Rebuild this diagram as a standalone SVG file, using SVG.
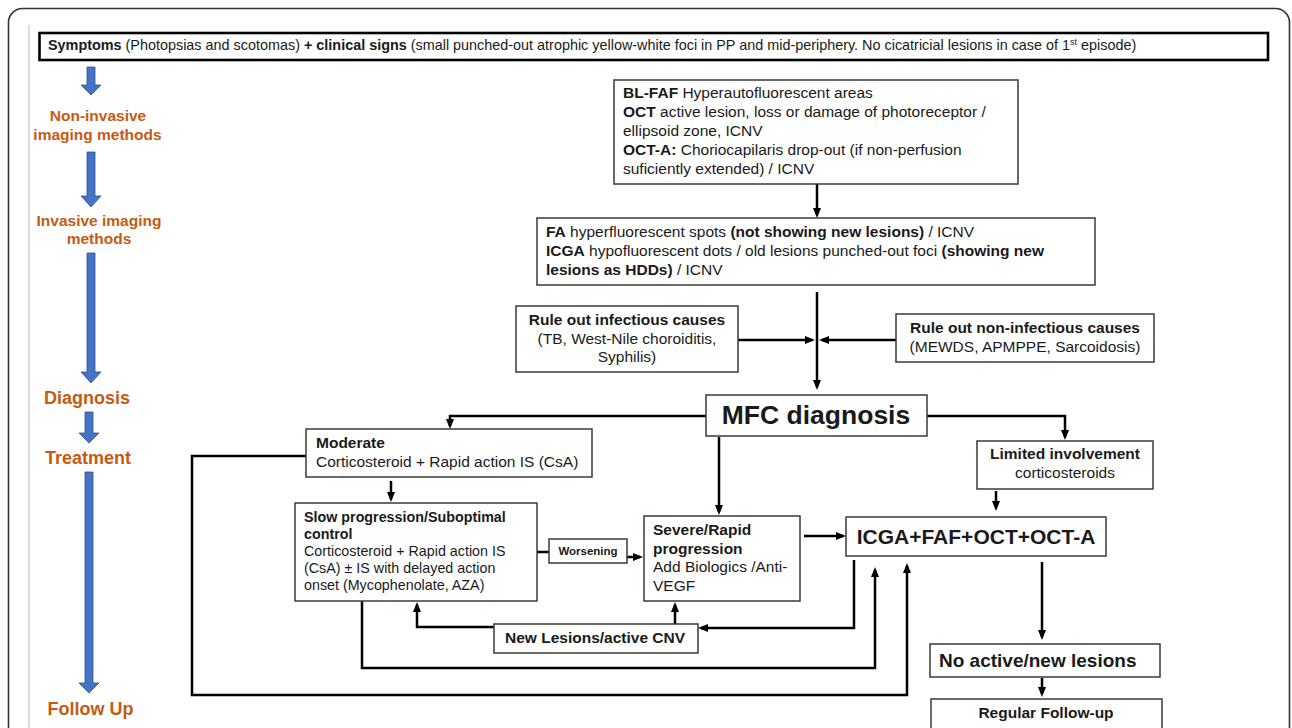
<svg xmlns="http://www.w3.org/2000/svg" width="1292" height="728" viewBox="0 0 1292 728">
<defs>
<style>
.t{font-family:"Liberation Sans",Arial,sans-serif;font-size:15.5px;fill:#1a1a1a}
.b{font-weight:bold}
.box{fill:#fff;stroke:#3a3a3a;stroke-width:1.5}
.lbl{font-family:"Liberation Sans",Arial,sans-serif;font-weight:bold;fill:#C55A11;text-anchor:middle}
.c{fill:none;stroke:#000;stroke-width:2.5}
.ba{fill:#4472C4;stroke:#2F528F;stroke-width:0.8}
.m{text-anchor:middle}
</style>
<marker id="ah" markerUnits="userSpaceOnUse" markerWidth="10" markerHeight="10" viewBox="0 0 10 10" refX="7" refY="5" orient="auto">
<path d="M0,1 L10,5 L0,9 z" fill="#000"/>
</marker>
</defs>
<rect width="1292" height="728" fill="#fff"/>
<rect x="8.5" y="8.5" width="1281" height="745" rx="14" fill="none" stroke="#333" stroke-width="1.6"/>
<line x1="29" y1="25" x2="29" y2="728" stroke="#dcdcdc" stroke-width="2"/>

<g id="header">
<rect x="39.5" y="33" width="1228.5" height="27" fill="#fff" stroke="#000" stroke-width="2.6"/>
<text class="t" x="48" y="50" style="font-size:14.4px"><tspan class="b">Symptoms</tspan> (Photopsias and scotomas) <tspan class="b">+ clinical signs</tspan> (small punched-out atrophic yellow-white foci in PP and mid-periphery. No cicatricial lesions in case of 1<tspan dy="-5" style="font-size:9px">st</tspan><tspan dy="5"> episode)</tspan></text>
</g>

<g id="stages">
<polygon class="ba" points="87,67 95,67 95,85 101,85 91,95 81,85 87,85"/>
<polygon class="ba" points="87,152 95,152 95,196 101,196 91,207 81,196 87,196"/>
<polygon class="ba" points="87,253 95,253 95,372 101,372 91,383 81,372 87,372"/>
<polygon class="ba" points="85,412 93,412 93,433 99,433 89,443 79,433 85,433"/>
<polygon class="ba" points="85,472 93,472 93,683 99,683 89,693 79,683 85,683"/>
<text class="lbl" x="98" y="121" style="font-size:15.5px">Non-invasive</text>
<text class="lbl" x="97.5" y="140" style="font-size:15.5px">imaging methods</text>
<text class="lbl" x="99" y="226" style="font-size:15.5px">Invasive imaging</text>
<text class="lbl" x="99" y="244" style="font-size:15.5px">methods</text>
<text class="lbl" x="87" y="404" style="font-size:18px">Diagnosis</text>
<text class="lbl" x="88" y="464" style="font-size:18px">Treatment</text>
<text class="lbl" x="90.5" y="715" style="font-size:18px">Follow Up</text>
</g>

<g id="connectors">
<path class="c" marker-end="url(#ah)" d="M817,184 V215"/>
<path class="c" marker-end="url(#ah)" d="M817,292 V387"/>
<path class="c" marker-end="url(#ah)" d="M738,340 H812"/>
<path class="c" marker-end="url(#ah)" d="M896,340 H822"/>
<path class="c" marker-end="url(#ah)" d="M706,416 H450 V426"/>
<path class="c" marker-end="url(#ah)" d="M927,416 H1065 V437"/>
<path class="c" marker-end="url(#ah)" d="M719,437 V512"/>
<path class="c" marker-end="url(#ah)" d="M391,481 V499"/>
<path class="c" d="M537,552 H549"/>
<path class="c" marker-end="url(#ah)" d="M627,557 H640"/>
<path class="c" marker-end="url(#ah)" d="M804,536 H843"/>
<path class="c" marker-end="url(#ah)" d="M996,491 V508"/>
<path class="c" marker-end="url(#ah)" d="M854,560 V628 H701"/>
<path class="c" marker-end="url(#ah)" d="M675,624 V605"/>
<path class="c" marker-end="url(#ah)" d="M494,627 H417 V605"/>
<path class="c" marker-end="url(#ah)" d="M362,601 V668 H875 V570"/>
<path class="c" marker-end="url(#ah)" d="M306,456 H192 V695 H907 V566"/>
<path class="c" marker-end="url(#ah)" d="M1042,562 V637"/>
<path class="c" marker-end="url(#ah)" d="M1042,678 V694"/>
</g>

<g id="blfaf">
<rect class="box" x="614" y="80" width="404" height="104"/>
<text class="t" x="623" y="98"><tspan class="b">BL-FAF</tspan> Hyperautofluorescent areas</text>
<text class="t" x="623" y="117"><tspan class="b">OCT</tspan> active lesion, loss or damage of photoreceptor /</text>
<text class="t" x="623" y="136">ellipsoid zone, ICNV</text>
<text class="t" x="623" y="154.5"><tspan class="b">OCT-A:</tspan> Choriocapilaris drop-out (if non-perfusion</text>
<text class="t" x="623" y="173.5">suficiently extended) / ICNV</text>
</g>

<g id="fa">
<rect class="box" x="537" y="218" width="558" height="67"/>
<text class="t" x="546" y="237"><tspan class="b">FA</tspan> hyperfluorescent spots <tspan class="b">(not showing new lesions)</tspan> / ICNV</text>
<text class="t" x="546" y="256"><tspan class="b">ICGA</tspan> hypofluorescent dots / old lesions punched-out foci <tspan class="b">(showing new</tspan></text>
<text class="t" x="546" y="274.5"><tspan class="b">lesions as HDDs)</tspan> / ICNV</text>
</g>

<g id="infectious">
<rect class="box" x="516" y="306" width="222" height="66"/>
<text class="t b m" x="627" y="325">Rule out infectious causes</text>
<text class="t m" x="627" y="344">(TB, West-Nile choroiditis,</text>
<text class="t m" x="627" y="362">Syphilis)</text>
</g>

<g id="noninfectious">
<rect class="box" x="896" y="314" width="258" height="48"/>
<text class="t b m" x="1025" y="333">Rule out non-infectious causes</text>
<text class="t m" x="1025" y="352">(MEWDS, APMPPE, Sarcoidosis)</text>
</g>

<g id="mfc">
<rect class="box" x="706" y="395" width="221" height="41"/>
<text class="t b m" x="816" y="424" style="font-size:26.5px">MFC diagnosis</text>
</g>

<g id="moderate">
<rect class="box" x="306" y="429" width="286" height="48"/>
<text class="t b" x="316" y="448">Moderate</text>
<text class="t" x="316" y="467">Corticosteroid + Rapid action IS (CsA)</text>
</g>

<g id="limited">
<rect class="box" x="977" y="441" width="176" height="48"/>
<text class="t b m" x="1065" y="459">Limited involvement</text>
<text class="t m" x="1065" y="478">corticosteroids</text>
</g>

<g id="slow">
<rect class="box" x="295" y="503" width="242" height="98"/>
<text class="t b" x="304" y="522" style="font-size:14.3px">Slow progression/Suboptimal</text>
<text class="t b" x="304" y="539" style="font-size:14.3px">control</text>
<text class="t" x="304" y="556" style="font-size:14.3px">Corticosteroid + Rapid action IS</text>
<text class="t" x="304" y="573" style="font-size:14.3px">(CsA) ± IS with delayed action</text>
<text class="t" x="304" y="590" style="font-size:14.3px">onset (Mycophenolate, AZA)</text>
</g>

<g id="worsening">
<rect class="box" x="549" y="539" width="78" height="24"/>
<text class="t b m" x="588" y="555" style="font-size:11.5px">Worsening</text>
</g>

<g id="severe">
<rect class="box" x="644" y="516" width="156" height="85"/>
<text class="t b" x="653" y="535">Severe/Rapid</text>
<text class="t b" x="653" y="553.5">progression</text>
<text class="t" x="653" y="572">Add Biologics /Anti-</text>
<text class="t" x="653" y="590.5">VEGF</text>
</g>

<g id="newlesions">
<rect class="box" x="494" y="624" width="204" height="29"/>
<text class="t b" x="505" y="643">New Lesions/active CNV</text>
</g>

<g id="icga">
<rect class="box" x="846" y="517" width="260" height="39"/>
<text class="t b m" x="976" y="544" style="font-size:21px">ICGA+FAF+OCT+OCT-A</text>
</g>

<g id="noactive">
<rect class="box" x="930" y="644" width="230" height="33"/>
<text class="t b" x="939" y="667" style="font-size:19px">No active/new lesions</text>
</g>

<g id="regular">
<rect class="box" x="931" y="699" width="231" height="36"/>
<text class="t b m" x="1046" y="718">Regular Follow-up</text>
</g>
</svg>
